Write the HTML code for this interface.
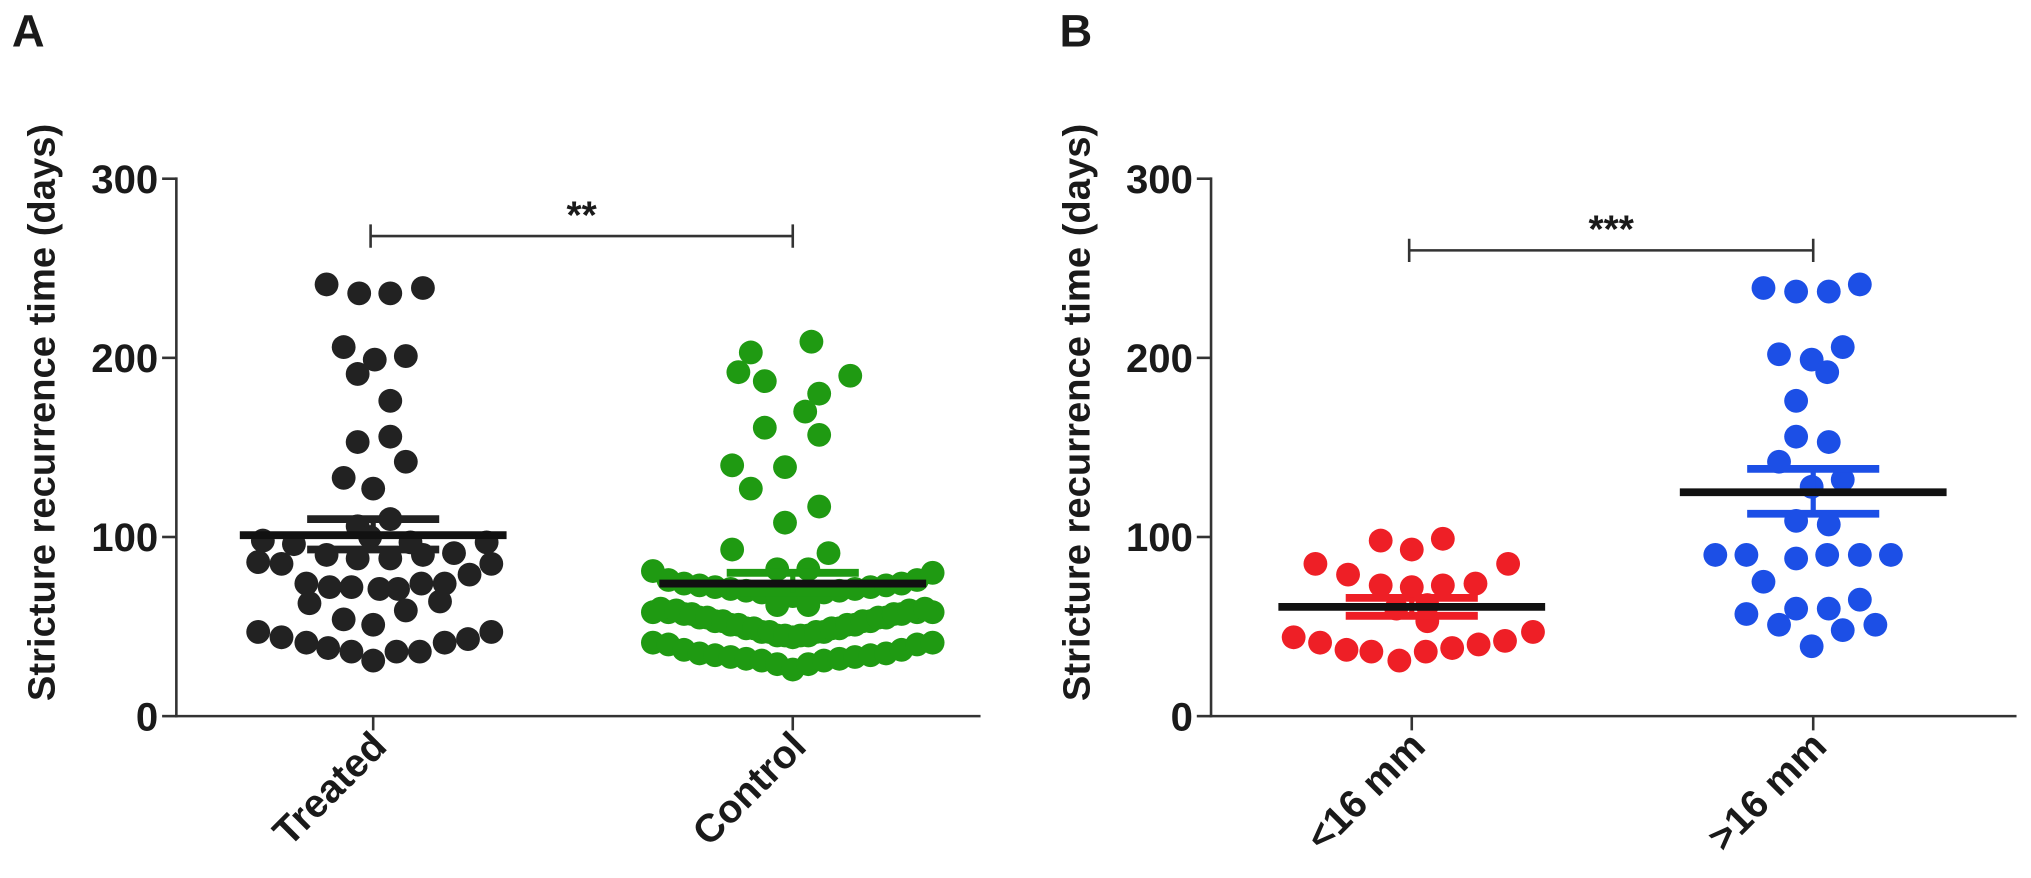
<!DOCTYPE html>
<html><head><meta charset="utf-8"><style>
html,body{margin:0;padding:0;background:#fff;}
svg{display:block;}
text{font-family:"Liberation Sans",Arial,sans-serif;font-weight:bold;fill:#1a1a1a;}
</style></head><body>
<svg id="fig" width="2031" height="878" viewBox="0 0 1568 678" xmlns="http://www.w3.org/2000/svg"></svg>
<script>
// ---- data ----
const yTicks = [0, 100, 200, 300];
const panelACategories = ["Treated", "Control"];
const panelBCategories = ["<16 mm", ">16 mm"];
// each point: lane (swarm column index) and value (days)
const treatedLanes = [-3.0,-0.9,1.1,3.2,-1.9,0.1,-1.0,2.1,1.1,-1.0,1.1,2.1,-1.9,0,1.1,-1,-7.1,-5.1,7.3,-7.4,-5.9,-3,-1,1.1,3.2,5.2,7.6,6.2,-4.3,-2.8,-1.4,0.4,1.6,3.1,4.6,-4.1,4.3,2.1,-1.9,0,-7.4,-5.9,-4.3,-2.9,-1.4,0,1.5,3,4.6,6.1,7.6,-0.2,2.4];
const treatedValues = [241,236,236,239,206,199,191,201,176,153,156,142,133,127,110,106,98,96,97,86,85,90,88,88,90,91,85,79,74,72,72,71,71,74,74,63,64,59,54,51,47,44,41,38,36,31,36,36,41,43,47,100,97];
const controlLanes = [1.2,-2.7,-3.5,-1.8,1.7,0.8,3.7,-1.8,1.7,-3.9,-0.5,-2.7,1.7,-0.5,-3.9,2.3,
 -9,-8,-7,-6,-5,-4,-3,-2,-1,0,1,2,3,4,5,6,7,8,9,-1,1,-1,1,
 -9,-8,-7,-6,-5,-4,-3,-2,-1,0,1,2,3,4,5,6,7,8,9,-8.5,-7.5,-6.5,-5.5,-4.5,-3.5,-2.5,-1.5,-0.5,0.5,1.5,2.5,3.5,4.5,5.5,6.5,7.5,8.5,
 -9,-8,-7,-6,-5,-4,-3,-2,-1,0,1,2,3,4,5,6,7,8,9];
const controlValues = [209,203,192,187,180,170,190,161,157,140,139,127,117,108,93,91,
 81,76,74,73,72,71,70,69,68,67,68,69,70,71,72,73,74,76,80,82,82,62,62,
 58,58,57,55,53,51,49,47,45,44,45,47,49,51,53,55,57,58,58,60,59,57,55,53,51,49,47,45,45,47,49,51,53,55,57,59,60,
 41,40,37,35,34,33,32,31,29,26,29,31,32,33,34,35,37,40,41];
const smallLanes = [-2,0,2,-6.2,-4.1,6.2,-2,0,2,4.1,1,-1,1,-7.6,-5.9,-4.2,-2.6,-0.8,0.9,2.6,4.3,6,7.8];
const smallValues = [98,93,99,85,79,85,73,72,73,74,53,60,62,44,41,37,36,31,36,38,40,42,47];
const largeLanes = [-3.2,-1.1,1,3,-2.2,-0.1,1.9,0.9,-1.1,-1.1,1,-2.2,1.9,-0.1,-1.1,1,-6.3,-4.3,-1.1,0.9,3,5,-3.2,3,-1.1,1,-4.3,-2.2,1.9,4,-0.1];
const largeValues = [239,237,237,241,202,199,206,192,176,156,153,142,132,128,109,107,90,90,88,90,90,90,75,65,60,60,57,51,48,51,39];
const means = [101, 74, 61, 125];
const semHi = [110, 80, 66, 138];
const semLo = [93, 69, 56, 113];
const sigLabels = ["**", "***"];
const sigY = [268, 260];

// ---- layout ----
const NS = "http://www.w3.org/2000/svg";
const svg = document.getElementById("fig");
function el(tag, attrs, parent) {
  const e = document.createElementNS(NS, tag);
  for (const k in attrs) e.setAttribute(k, attrs[k]);
  (parent || svg).appendChild(e);
  return e;
}
const Y0 = 553, PXU = 415 / 300, LANE = 12, R = 9.2;
const yScale = v => Y0 - v * PXU;
const panels = [
  {axisX: 136, axisEnd: 757, letter: "A", letterX: 9, cats: panelACategories, catX: [288, 612],
   groups: [{lanes: treatedLanes, vals: treatedValues, color: "#222222", semColor: "#222222", name: "treated"},
            {lanes: controlLanes, vals: controlValues, color: "#1f9a12", semColor: "#1f9a12", name: "control"}]},
  {axisX: 935, axisEnd: 1557, letter: "B", letterX: 818, cats: panelBCategories, catX: [1090, 1400],
   groups: [{lanes: smallLanes, vals: smallValues, color: "#ee1f26", semColor: "#ee1f26", name: "under-16mm"},
            {lanes: largeLanes, vals: largeValues, color: "#1c4fe6", semColor: "#1c4fe6", name: "over-16mm"}]}
];

panels.forEach((p, pi) => {
  const g = el("g", {});
  
  
  const L = el("text", {x: p.letterX, y: 36, "font-size": 35}, g);
  L.textContent = p.letter;
  
  
  const ya = el("line", {x1: p.axisX, y1: yScale(300) - 1, x2: p.axisX, y2: Y0 + 1, stroke: "#333", "stroke-width": 2}, g);
  
  
  yTicks.forEach(t => {
    el("line", {x1: p.axisX - 11, y1: yScale(t), x2: p.axisX, y2: yScale(t), stroke: "#333", "stroke-width": 2}, g);
    const tl = el("text", {x: p.axisX - 14, y: yScale(t) + 11, "font-size": 31, "text-anchor": "end"}, g);
    tl.textContent = t;
    
    
  });
  const yt = el("text", {x: 0, y: 0, "font-size": 29.5, "text-anchor": "middle", transform: `translate(${p.axisX - 94},${(yScale(300) + Y0) / 2 - 27}) rotate(-90)`}, g);
  yt.textContent = "Stricture recurrence time (days)";
  
  
  const xa = el("line", {x1: p.axisX - 1, y1: Y0, x2: p.axisEnd, y2: Y0, stroke: "#333", "stroke-width": 2}, g);
  
  
  p.cats.forEach((c, ci) => {
    el("line", {x1: p.catX[ci], y1: Y0, x2: p.catX[ci], y2: Y0 + 11, stroke: "#333", "stroke-width": 2}, g);
    const xl = el("text", {x: 0, y: 0, "font-size": 30.5, "text-anchor": "end", transform: `translate(${p.catX[ci] + 12},${Y0 + 25}) rotate(-45)`}, g);
    xl.textContent = c;
    
    
  });
  p.groups.forEach((gr, gi) => {
    const cx = p.catX[gi];
    const gg = el("g", {fill: gr.color}, g);
    
    
    gr.vals.forEach((v, i) => {
      const c = el("circle", {cx: cx + gr.lanes[i] * LANE, cy: yScale(v), r: R}, gg);
      
      
    });
    const k = pi * 2 + gi;
    [semHi[k], semLo[k]].forEach(s => {
      const b = el("line", {x1: cx - 51, y1: yScale(s), x2: cx + 51, y2: yScale(s), stroke: gr.semColor, "stroke-width": 6}, g);
      
      
    });
    const e = el("line", {x1: cx, y1: yScale(semHi[k]), x2: cx, y2: yScale(semLo[k]), stroke: gr.semColor, "stroke-width": 4}, g);
    
    
    const m = el("line", {x1: cx - 103, y1: yScale(means[k]), x2: cx + 103, y2: yScale(means[k]), stroke: "#111", "stroke-width": 6}, g);
    
    
  });
  const by = yScale(sigY[pi]);
  const x1 = p.catX[0] - 2, x2 = p.catX[1];
  const br = el("path", {d: `M${x1},${by - 9}V${by + 9}M${x1},${by}H${x2}M${x2},${by - 9}V${by + 9}`, stroke: "#333", "stroke-width": 2, fill: "none"}, g);
  
  
  const st = el("text", {x: (x1 + x2) / 2, y: by - 6, "font-size": 30, "text-anchor": "middle"}, g);
  st.textContent = sigLabels[pi];
  
  
});
</script>
</body></html>
